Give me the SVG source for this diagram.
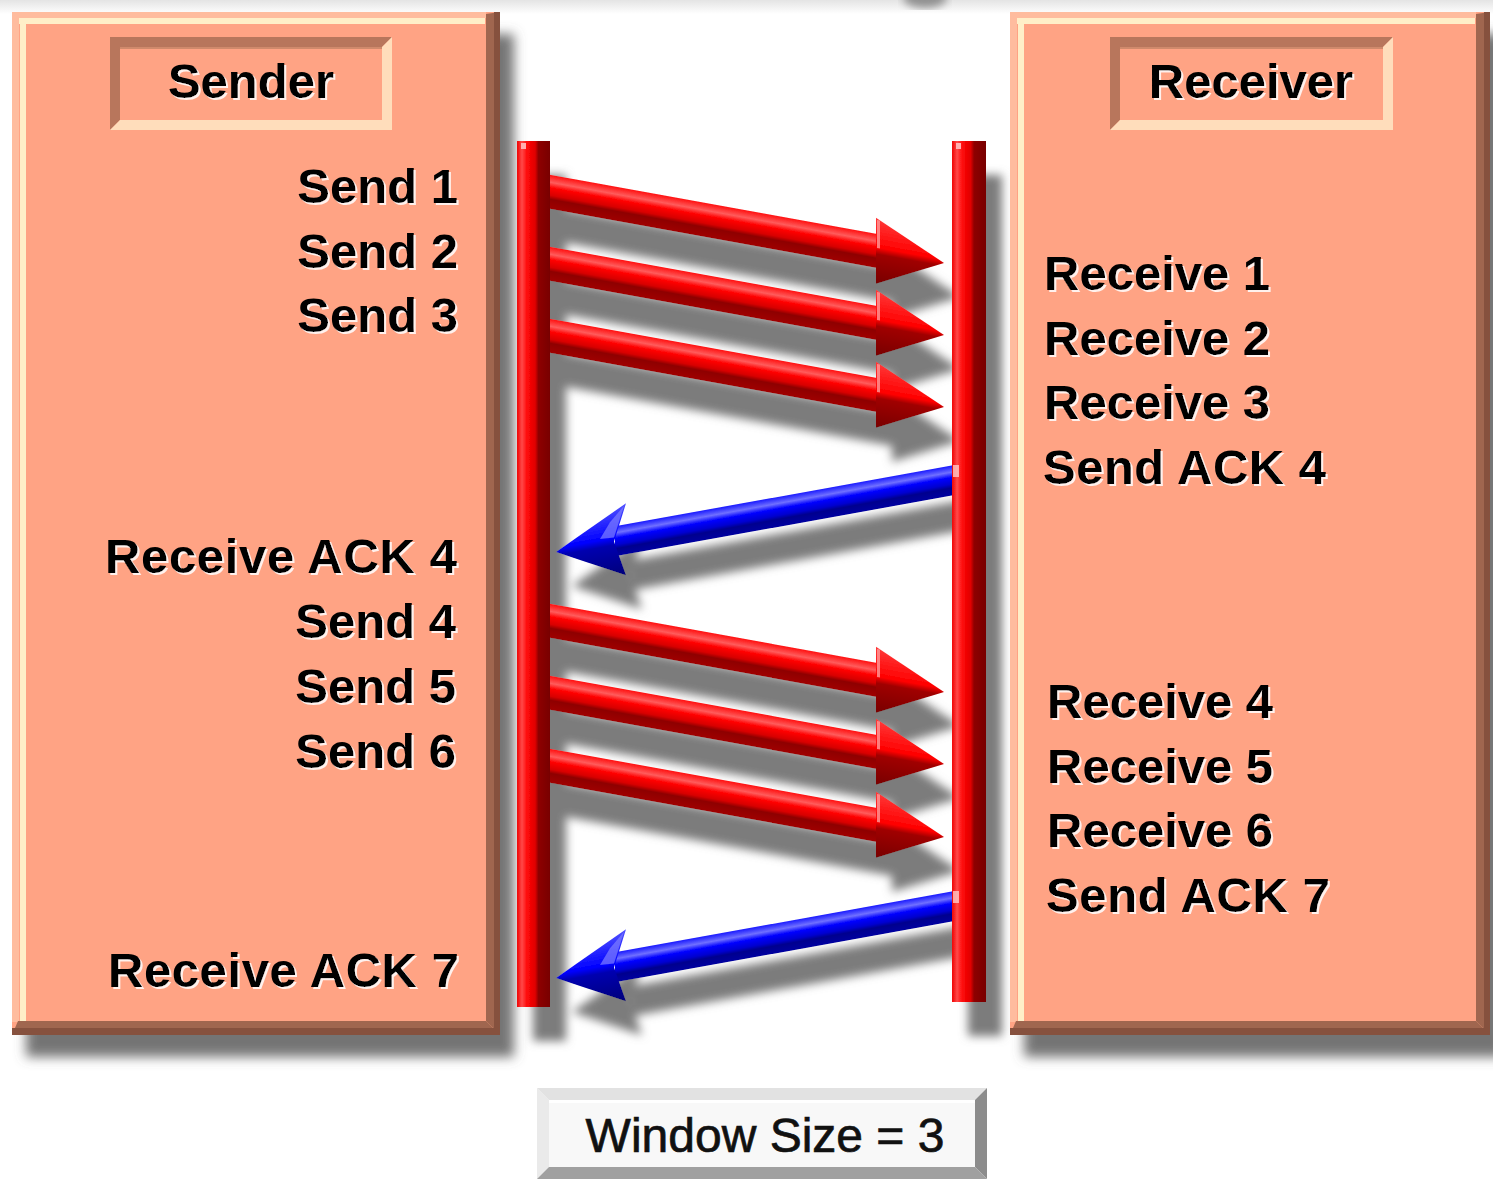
<svg xmlns="http://www.w3.org/2000/svg" width="1493" height="1179" viewBox="0 0 1493 1179">
  <style>
    .lbl { font-family: "Liberation Sans", Arial, sans-serif; font-weight: bold; font-size: 49px; fill: #000; }
    .end { text-anchor: end; }
    .mid { text-anchor: middle; }
    .win { font-family: "Liberation Sans", Arial, sans-serif; font-size: 48px; fill: #111; stroke: #111; stroke-width: 0.7px; text-anchor: middle; }
    .panel { fill: #FFA384; }
    .rim { fill: #FFBC9E; }
    .hi { fill: #FFEFC8; }
    .dk { fill: #A0664F; }
    .dk2 { fill: #86513E; }
    .hdrDark { fill: #B8765C; }
    .hdrLight { fill: #FFDDBB; }
  </style>
  <defs>
    <!-- soft grey drop shadow for the side panels -->
    <filter id="panelShadow" x="-10%" y="-10%" width="130%" height="120%">
      <feGaussianBlur in="SourceAlpha" stdDeviation="6"/>
      <feOffset dx="14" dy="22" result="b"/>
      <feFlood flood-color="#666666" flood-opacity="0.9"/>
      <feComposite in2="b" operator="in"/>
      <feMerge><feMergeNode/><feMergeNode in="SourceGraphic"/></feMerge>
    </filter>
    <!-- shadow cast by the time lines and message arrows -->
    <filter id="lineShadow" x="-20%" y="-10%" width="150%" height="130%">
      <feGaussianBlur in="SourceAlpha" stdDeviation="5"/>
      <feOffset dx="16" dy="34" result="b"/>
      <feFlood flood-color="#7c7c7c" flood-opacity="1"/>
      <feComposite in2="b" operator="in"/>
      <feMerge><feMergeNode/><feMergeNode in="SourceGraphic"/></feMerge>
    </filter>
    <!-- light offset halo behind label text -->
    <filter id="halo" x="-5%" y="-20%" width="115%" height="150%">
      <feOffset in="SourceAlpha" dx="2" dy="2" result="o"/>
      <feFlood flood-color="#ffffff" flood-opacity="0.85"/>
      <feComposite in2="o" operator="in"/>
      <feMerge><feMergeNode/><feMergeNode in="SourceGraphic"/></feMerge>
    </filter>
    <filter id="blurTop"><feGaussianBlur stdDeviation="4"/></filter>

    <linearGradient id="barGrad" x1="0" y1="0" x2="1" y2="0">
      <stop offset="0" stop-color="#F00000"/>
      <stop offset="0.15" stop-color="#FF4A4A"/>
      <stop offset="0.3" stop-color="#FF0A0A"/>
      <stop offset="0.55" stop-color="#E00000"/>
      <stop offset="0.65" stop-color="#8E0000"/>
      <stop offset="1" stop-color="#780000"/>
    </linearGradient>
    <linearGradient id="redShaft" x1="0" y1="0" x2="0" y2="1">
      <stop offset="0" stop-color="#FF1010"/>
      <stop offset="0.22" stop-color="#FF5C5C"/>
      <stop offset="0.38" stop-color="#FF0000"/>
      <stop offset="0.6" stop-color="#D80000"/>
      <stop offset="0.72" stop-color="#8E0000"/>
      <stop offset="1" stop-color="#A00000"/>
    </linearGradient>
    <linearGradient id="redHead" x1="0" y1="0" x2="0" y2="1">
      <stop offset="0" stop-color="#FF3A3A"/>
      <stop offset="0.45" stop-color="#FF0000"/>
      <stop offset="0.55" stop-color="#A00000"/>
      <stop offset="1" stop-color="#780000"/>
    </linearGradient>
    <linearGradient id="blueShaft" x1="0" y1="0" x2="0" y2="1">
      <stop offset="0" stop-color="#1A1AFF"/>
      <stop offset="0.22" stop-color="#7070FF"/>
      <stop offset="0.4" stop-color="#0000FF"/>
      <stop offset="0.62" stop-color="#0000D0"/>
      <stop offset="0.75" stop-color="#00008E"/>
      <stop offset="1" stop-color="#0000A0"/>
    </linearGradient>
    <linearGradient id="blueHead" x1="0" y1="0" x2="0" y2="1">
      <stop offset="0" stop-color="#5050FF"/>
      <stop offset="0.45" stop-color="#0000FF"/>
      <stop offset="0.55" stop-color="#0000B0"/>
      <stop offset="1" stop-color="#00007A"/>
    </linearGradient>
    <linearGradient id="topHaze" x1="0" y1="0" x2="0" y2="1">
      <stop offset="0" stop-color="#E4E4E4"/>
      <stop offset="1" stop-color="#FFFFFF"/>
    </linearGradient>

    <!-- message arrows drawn horizontally, then skewed into place -->
    <g id="redArrow">
      <rect x="0" y="-17" width="340" height="34" fill="url(#redShaft)"/>
      <polygon points="336,-33 404,0 336,33" fill="url(#redHead)"/>
      <rect x="337" y="-31" width="3" height="28" fill="#FF9A9A" opacity="0.8"/>
    </g>
    <g id="blueArrow">
      <rect x="0" y="-15" width="345" height="30" fill="url(#blueShaft)"/>
      <polygon points="334,-36 404,0 334,36 346,0" fill="url(#blueHead)"/>
      <polygon points="336,-34 350,-20 360,-5 346,-4" fill="#8080FF" opacity="0.7"/>
    </g>
  </defs>

  <rect width="1493" height="1179" fill="#FFFFFF"/>
  <rect x="0" y="0" width="1493" height="14" fill="url(#topHaze)"/>
  <ellipse cx="925" cy="-2" rx="22" ry="10" fill="#909090" filter="url(#blurTop)"/>

  <!-- sender panel -->
  <g id="sender">
    <g filter="url(#panelShadow)">
      <rect class="panel" x="12" y="12" width="488" height="1023"/>
    </g>
    <rect class="rim" x="12" y="12" width="474" height="6"/>
    <rect class="rim" x="12" y="12" width="7" height="1010"/>
    <rect class="hi" x="19" y="18" width="466" height="6"/>
    <rect class="hi" x="20" y="18" width="6" height="1003"/>
    <polygon class="dk" points="486,14 500,12 500,1035 486,1021"/>
    <polygon class="dk" points="12,1035 500,1035 486,1021 18,1021"/>
    <rect class="dk2" x="12" y="1028" width="488" height="7"/>
    <rect class="dk2" x="494" y="12" width="6" height="1023"/>

    <g id="sender-title">
      <rect class="panel" x="110" y="37" width="282" height="93"/>
      <polygon class="hdrDark" points="110,37 392,37 382,47 120,47 120,120 110,130"/>
      <polygon class="hdrLight" points="392,37 392,130 110,130 120,120 382,120 382,47"/>
      <rect x="121" y="48" width="260" height="71" fill="#FFA384"/>
      <rect x="120" y="47" width="262" height="2" fill="#D08A6C"/>
      <text class="lbl mid" x="251" y="98" filter="url(#halo)">Sender</text>
    </g>

    <g filter="url(#halo)">
      <text class="lbl end" x="458" y="203">Send 1</text>
      <text class="lbl end" x="458" y="268">Send 2</text>
      <text class="lbl end" x="458" y="332">Send 3</text>
      <text class="lbl" x="105" y="573" textLength="352" lengthAdjust="spacing">Receive ACK 4</text>
      <text class="lbl end" x="456" y="638">Send 4</text>
      <text class="lbl end" x="456" y="703">Send 5</text>
      <text class="lbl end" x="456" y="768">Send 6</text>
      <text class="lbl" x="108" y="987" textLength="351" lengthAdjust="spacing">Receive ACK 7</text>
    </g>
  </g>

  <!-- time lines and messages -->
  <g id="connectors" filter="url(#lineShadow)">
    <g id="data-1-3">
      <use href="#redArrow" transform="translate(540 190) skewY(10.24)"/>
      <use href="#redArrow" transform="translate(540 262) skewY(10.24)"/>
      <use href="#redArrow" transform="translate(540 334) skewY(10.24)"/>
    </g>
    <g id="data-4-6">
      <use href="#redArrow" transform="translate(540 619) skewY(10.24)"/>
      <use href="#redArrow" transform="translate(540 691) skewY(10.24)"/>
      <use href="#redArrow" transform="translate(540 764) skewY(10.24)"/>
    </g>
    <g id="acks">
      <use href="#blueArrow" transform="translate(960 479) skewY(-10.24) scale(-1 1)"/>
      <use href="#blueArrow" transform="translate(960 905) skewY(-10.24) scale(-1 1)"/>
    </g>
    <g id="sender-line">
      <rect x="517" y="141" width="33" height="866" fill="url(#barGrad)"/>
      <rect x="521" y="143" width="5" height="6" fill="#FFB0B0"/>
    </g>
    <g id="receiver-line">
      <rect x="952" y="141" width="34" height="861" fill="url(#barGrad)"/>
      <rect x="956" y="143" width="5" height="6" fill="#FFB0B0"/>
      <rect x="953" y="465" width="6" height="12" fill="#FFC8C8" opacity="0.8"/>
      <rect x="953" y="891" width="6" height="12" fill="#FFC8C8" opacity="0.8"/>
    </g>
  </g>

  <!-- receiver panel -->
  <g id="receiver">
    <g filter="url(#panelShadow)">
      <rect class="panel" x="1010" y="12" width="480" height="1023"/>
    </g>
    <rect class="rim" x="1010" y="12" width="466" height="6"/>
    <rect class="rim" x="1010" y="12" width="7" height="1010"/>
    <rect class="hi" x="1017" y="18" width="458" height="6"/>
    <rect class="hi" x="1018" y="18" width="6" height="1003"/>
    <polygon class="dk" points="1476,14 1490,12 1490,1035 1476,1021"/>
    <polygon class="dk" points="1010,1035 1490,1035 1476,1021 1016,1021"/>
    <rect class="dk2" x="1010" y="1028" width="480" height="7"/>
    <rect class="dk2" x="1484" y="12" width="6" height="1023"/>

    <g id="receiver-title">
      <rect class="panel" x="1110" y="37" width="283" height="93"/>
      <polygon class="hdrDark" points="1110,37 1393,37 1383,47 1120,47 1120,120 1110,130"/>
      <polygon class="hdrLight" points="1393,37 1393,130 1110,130 1120,120 1383,120 1383,47"/>
      <rect x="1121" y="48" width="261" height="71" fill="#FFA384"/>
      <rect x="1120" y="47" width="263" height="2" fill="#D08A6C"/>
      <text class="lbl mid" x="1251" y="98" filter="url(#halo)">Receiver</text>
    </g>

    <g filter="url(#halo)">
      <text class="lbl" x="1044" y="290">Receive 1</text>
      <text class="lbl" x="1044" y="355">Receive 2</text>
      <text class="lbl" x="1044" y="419">Receive 3</text>
      <text class="lbl" x="1043" y="484" textLength="283" lengthAdjust="spacing">Send ACK 4</text>
      <text class="lbl" x="1047" y="718">Receive 4</text>
      <text class="lbl" x="1047" y="783">Receive 5</text>
      <text class="lbl" x="1047" y="847">Receive 6</text>
      <text class="lbl" x="1046" y="912" textLength="284" lengthAdjust="spacing">Send ACK 7</text>
    </g>
  </g>

  <!-- window size caption -->
  <g id="window-size">
    <rect x="537" y="1088" width="450" height="91" fill="#F8F8F8"/>
    <polygon points="537,1088 987,1088 975,1100 549,1100" fill="#E2E2E2"/>
    <polygon points="537,1088 549,1100 549,1167 537,1179" fill="#EAEAEA"/>
    <polygon points="987,1088 987,1179 975,1167 975,1100" fill="#8C8C8C"/>
    <polygon points="537,1179 987,1179 975,1167 549,1167" fill="#A0A0A0"/>
    <rect x="549" y="1100" width="426" height="3" fill="#FFFFFF"/>
    <text class="win" x="765" y="1152">Window Size = 3</text>
  </g>
</svg>
